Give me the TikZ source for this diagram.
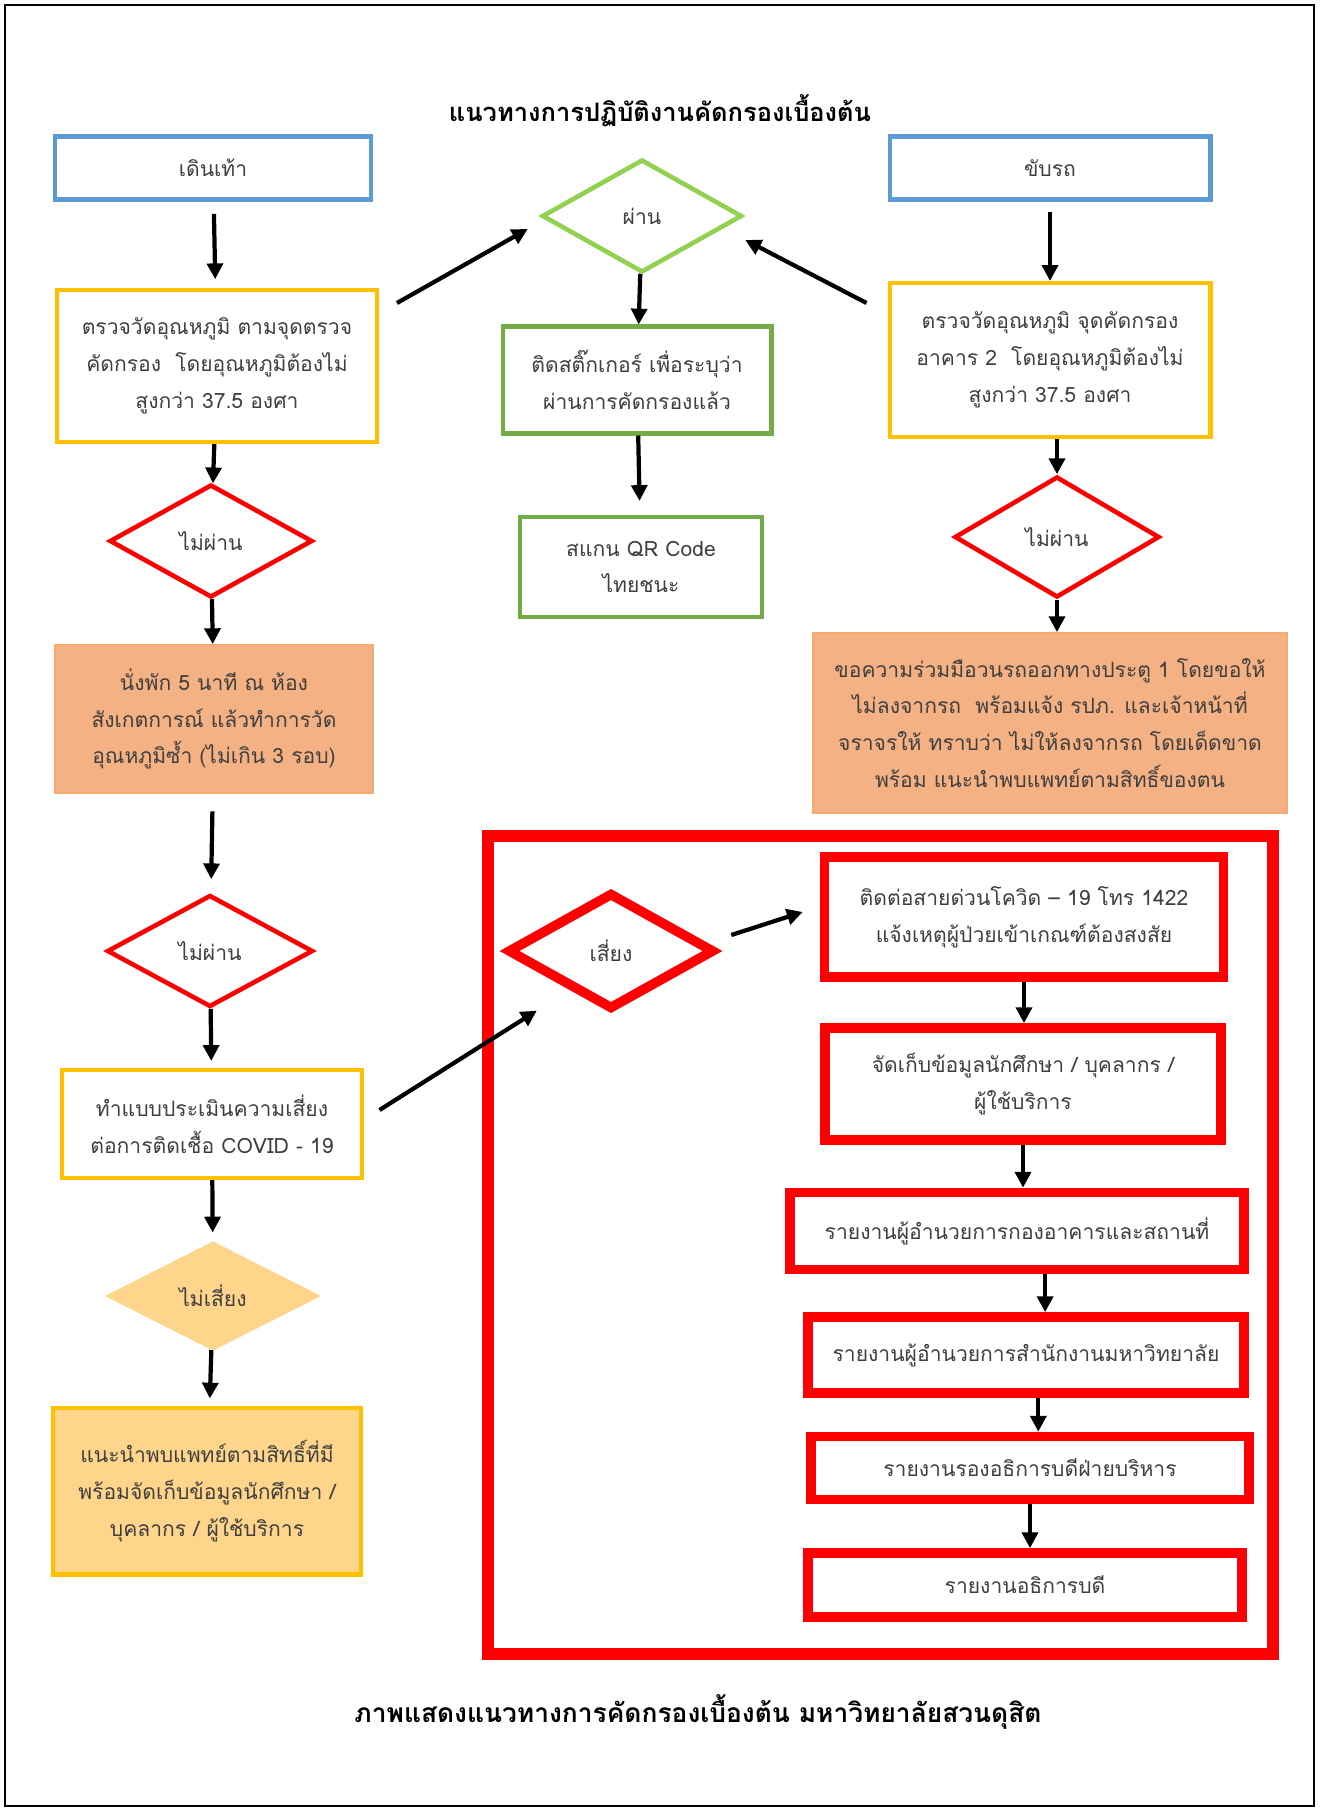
\documentclass[tikz,border=0pt]{standalone}
\usepackage{fontspec}
\usepackage{tikz}
\usetikzlibrary{shapes.geometric,arrows.meta,positioning,calc}
\newfontfamily\thaifont[Script=Thai]{Loma}
\definecolor{skyline}{HTML}{5B9BD5}
\definecolor{amber}{HTML}{FFC000}
\definecolor{leaf}{HTML}{70AD47}
\definecolor{leaflight}{HTML}{92D050}
\definecolor{alert}{HTML}{FF0000}
\definecolor{salmon}{HTML}{F4B183}
\definecolor{sand}{HTML}{FFD58C}
\definecolor{ink}{HTML}{3F3F3F}

\begin{document}
\begin{tikzpicture}[
  x=0.02cm, y=-0.02cm,
  box/.style={rectangle, draw, line width=2.3pt, fill=white, font=\thaifont\fontsize{12}{21}\selectfont, text=ink, align=center, inner sep=2pt},
  decision/.style={diamond, draw=alert, line width=2.6pt, fill=white, font=\thaifont\fontsize{12}{16}\selectfont, text=ink, inner sep=0pt},
  alertbox/.style={box, draw=alert, line width=5.5pt},
  arrow/.style={-{Triangle[length=9pt,width=9pt]}, line width=2.4pt, black}
]
\useasboundingbox (0,0) rectangle (1319,1811);
\draw[line width=1.4pt] (5,5) rectangle (1314,1806);
\draw[alert, line width=6.8pt] (488,836) rectangle (1273,1654);

\node[font=\thaifont\fontsize{14.5}{18}\selectfont\bfseries] (title) at (660,111) {แนวทางการปฏิบัติงานคัดกรองเบื้องต้น};

\node[box, draw=skyline, minimum width=6.34cm, minimum height=1.26cm] (walk) at (213,168) {เดินเท้า};
\node[box, draw=amber, minimum width=6.4cm, minimum height=3.04cm] (chkA) at (217,366) {ตรวจวัดอุณหภูมิ ตามจุดตรวจ\\คัดกรอง\ \ โดยอุณหภูมิต้องไม่\\สูงกว่า 37.5 องศา};
\node[decision, minimum width=4.06cm, minimum height=2.26cm] (nopassA) at (211,541) {ไม่ผ่าน};
\node[box, draw=salmon!85!orange, line width=1pt, fill=salmon, minimum width=6.36cm, minimum height=2.96cm] (rest) at (214,719) {นั่งพัก 5 นาที ณ ห้อง\\สังเกตการณ์ แล้วทำการวัด\\อุณหภูมิซ้ำ (ไม่เกิน 3 รอบ)};
\node[decision, minimum width=4.12cm, minimum height=2.24cm] (nopassB) at (210,951) {ไม่ผ่าน};
\node[box, draw=amber, minimum width=6.02cm, minimum height=2.16cm] (assess) at (212,1124) {ทำแบบประเมินความเสี่ยง\\ต่อการติดเชื้อ COVID - 19};
\node[decision, draw=sand, line width=1pt, fill=sand, minimum width=4.26cm, minimum height=2.16cm] (norisk) at (213,1296) {ไม่เสี่ยง};
\node[box, draw=amber, fill=sand, minimum width=6.18cm, minimum height=3.34cm] (advise) at (207,1491) {แนะนำพบแพทย์ตามสิทธิ์ที่มี\\พร้อมจัดเก็บข้อมูลนักศึกษา /\\บุคลากร / ผู้ใช้บริการ};

\node[decision, draw=leaflight, minimum width=4cm, minimum height=2.26cm] (pass) at (642,216) {ผ่าน};
\node[box, draw=leaf, minimum width=5.38cm, minimum height=2.14cm] (sticker) at (637,380) {ติดสติ๊กเกอร์ เพื่อระบุว่า\\ผ่านการคัดกรองแล้ว};
\node[box, draw=leaf, minimum width=4.84cm, minimum height=2cm] (qr) at (641,567) {สแกน QR Code\\ไทยชนะ};

\node[box, draw=skyline, minimum width=6.42cm, minimum height=1.26cm] (drive) at (1050,168) {ขับรถ};
\node[box, draw=amber, minimum width=6.42cm, minimum height=3.08cm] (chkB) at (1050,360) {ตรวจวัดอุณหภูมิ จุดคัดกรอง\\อาคาร 2\ \ โดยอุณหภูมิต้องไม่\\สูงกว่า 37.5 องศา};
\node[decision, minimum width=4.1cm, minimum height=2.42cm] (nopassC) at (1057,537) {ไม่ผ่าน};
\node[box, draw=salmon!85!orange, line width=1pt, fill=salmon, minimum width=9.48cm, minimum height=3.6cm] (deny) at (1050,723) {ขอความร่วมมือวนรถออกทางประตู 1 โดยขอให้\\ไม่ลงจากรถ\ \ พร้อมแจ้ง รปภ. และเจ้าหน้าที่\\จราจรให้ ทราบว่า ไม่ให้ลงจากรถ โดยเด็ดขาด\\พร้อม แนะนำพบแพทย์ตามสิทธิ์ของตน};

\node[decision, line width=5.5pt, minimum width=4.14cm, minimum height=2.34cm] (risk) at (611,951) {เสี่ยง};
\node[alertbox, minimum width=7.98cm, minimum height=2.4cm] (hotline) at (1024,917) {ติดต่อสายด่วนโควิด – 19 โทร 1422\\แจ้งเหตุผู้ป่วยเข้าเกณฑ์ต้องสงสัย};
\node[alertbox, minimum width=7.92cm, minimum height=2.24cm] (record) at (1023,1084) {จัดเก็บข้อมูลนักศึกษา / บุคลากร /\\ผู้ใช้บริการ};
\node[alertbox, minimum width=9.08cm, minimum height=1.54cm] (repA) at (1017,1231) {รายงานผู้อำนวยการกองอาคารและสถานที่};
\node[alertbox, minimum width=8.72cm, minimum height=1.52cm] (repB) at (1026,1355) {รายงานผู้อำนวยการสำนักงานมหาวิทยาลัย};
\node[alertbox, minimum width=8.76cm, minimum height=1.26cm] (repC) at (1030,1468) {รายงานรองอธิการบดีฝ่ายบริหาร};
\node[alertbox, minimum width=8.68cm, minimum height=1.28cm] (repD) at (1025,1585) {รายงานอธิการบดี};

\node[font=\thaifont\fontsize{15}{18}\selectfont\bfseries] (caption) at (698,1712) {ภาพแสดงแนวทางการคัดกรองเบื้องต้น มหาวิทยาลัยสวนดุสิต};

\draw[arrow, shorten <=7pt, shorten >=5pt] (walk) -- (chkA);
\draw[arrow] (chkA) -- (nopassA);
\draw[arrow] (nopassA) -- (rest);
\draw[arrow, shorten <=10pt, shorten >=8pt] (rest) -- (nopassB);
\draw[arrow, shorten >=4pt] (nopassB) -- (assess);
\draw[arrow, shorten >=5pt] (assess) -- (norisk);
\draw[arrow, shorten >=4pt] (norisk) -- (advise);

\draw[arrow] (pass) -- (sticker);
\draw[arrow, shorten >=8pt] (sticker) -- (qr);

\draw[arrow, shorten <=6pt] (drive) -- (chkB);
\draw[arrow] (chkB.south -| nopassC) -- (nopassC);
\draw[arrow] (nopassC) -- (nopassC |- deny.north);

\draw[arrow] ([shift={(18,-63)}]chkA.east) -- ([shift={(-12,13)}]pass.west);
\draw[arrow] ([shift={(-21,22)}]chkB.north west) -- ([shift={(1,24)}]pass.east);
\draw[arrow] ([shift={(15,-14)}]assess.east) -- ([shift={(-20,28)}]risk.south west);
\draw[arrow] ([shift={(12,-16)}]risk.east) -- ([shift={(-17,-5)}]hotline.west);

\draw[arrow] (hotline.south) -- (hotline.south |- record.north);
\draw[arrow] (record.south) -- (record.south |- repA.north);
\draw[arrow] ([xshift=16]repA.south) -- ([xshift=16]repA.south |- repB.north);
\draw[arrow] ([xshift=7]repB.south) -- ([xshift=7]repB.south |- repC.north);
\draw[arrow] (repC.south) -- (repC.south |- repD.north);
\end{tikzpicture}
\end{document}
